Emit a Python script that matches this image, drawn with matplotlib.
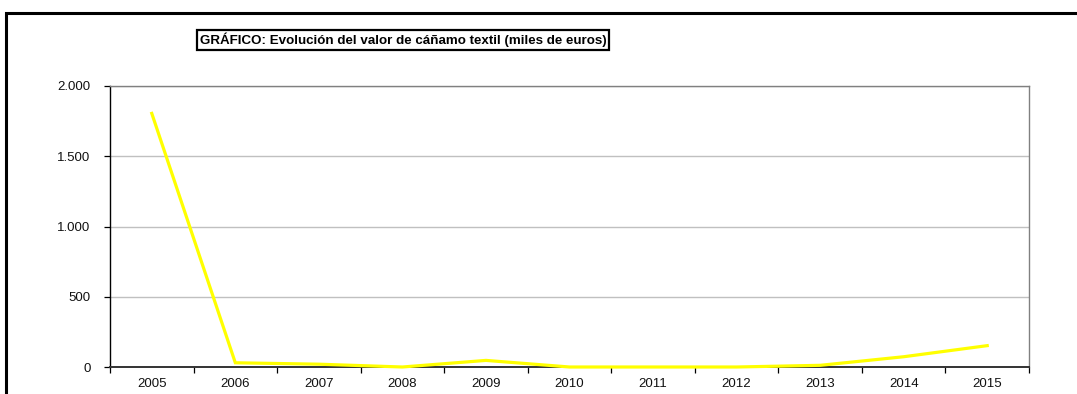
import matplotlib
matplotlib.use("Agg")
import matplotlib.pyplot as plt
from matplotlib.patches import Rectangle
from matplotlib.ticker import FuncFormatter, FixedLocator

# valores (miles de euros)
years = ["2005", "2006", "2007", "2008", "2009", "2010",
         "2011", "2012", "2013", "2014", "2015"]
valor = [1805, 30, 20, 0, 47, 0, 0, 0, 12, 73, 152]
y_ticks = [0, 500, 1000, 1500, 2000]
title = "GRÁFICO: Evolución del valor de cáñamo textil (miles de euros)"

plt.rcParams["font.family"] = ["Liberation Sans", "DejaVu Sans"]

fig = plt.figure(figsize=(10.77, 3.94), dpi=100)
W, H = 1077, 394

# marco exterior del grafico (se sale por la derecha y por abajo)
fig.patches.append(Rectangle((6 / W, -0.1), 1.2, (H - 13) / H + 0.1,
                             transform=fig.transFigure, fill=False,
                             edgecolor="black", linewidth=2.2, zorder=0))

ax = fig.add_axes([110 / W, 27 / H, (1029 - 110) / W, (367 - 86) / H])
x = list(range(len(years)))
ax.plot(x, valor, color="#FFFF00", lw=2.3, solid_joinstyle="miter", zorder=3,
        clip_on=False)

ax.set_xlim(-0.5, len(years) - 0.5)
ax.set_ylim(0, 2000)

# categorias centradas entre marcas (estilo Excel)
ax.xaxis.set_major_locator(FixedLocator([i - 0.5 for i in range(len(years) + 1)]))
ax.xaxis.set_major_formatter(FuncFormatter(lambda v, p: ""))
ax.xaxis.set_minor_locator(FixedLocator(x))
ax.set_xticklabels(years, minor=True)
ax.tick_params(axis="x", which="major", direction="out", length=4, width=0.9,
               color="black")
ax.tick_params(axis="x", which="minor", length=0, pad=8, labelsize=9.5,
               labelcolor="#111111")

ax.set_yticks(y_ticks)
ax.yaxis.set_major_formatter(FuncFormatter(lambda v, p: f"{int(v):,}".replace(",", ".")))
ax.tick_params(axis="y", direction="out", length=4, width=0.9, color="black",
               labelsize=9.5, labelcolor="#111111", pad=10)

ax.grid(axis="y", color="#C0C0C0", lw=1.0)
ax.set_axisbelow(True)

ax.spines["left"].set_color("black")
ax.spines["left"].set_linewidth(1.0)
ax.spines["bottom"].set_color("#333333")
ax.spines["bottom"].set_linewidth(1.4)
ax.spines["top"].set_color("#808080")
ax.spines["top"].set_linewidth(1.0)
ax.spines["right"].set_color("#808080")
ax.spines["right"].set_linewidth(1.0)

fig.text(200 / W, 1 - 40 / H, title, fontsize=9.6, fontweight="bold",
         ha="left", va="center",
         bbox=dict(boxstyle="square,pad=0.2", facecolor="white",
                   edgecolor="black", linewidth=1.6))

fig.savefig("out.png", dpi=100)
